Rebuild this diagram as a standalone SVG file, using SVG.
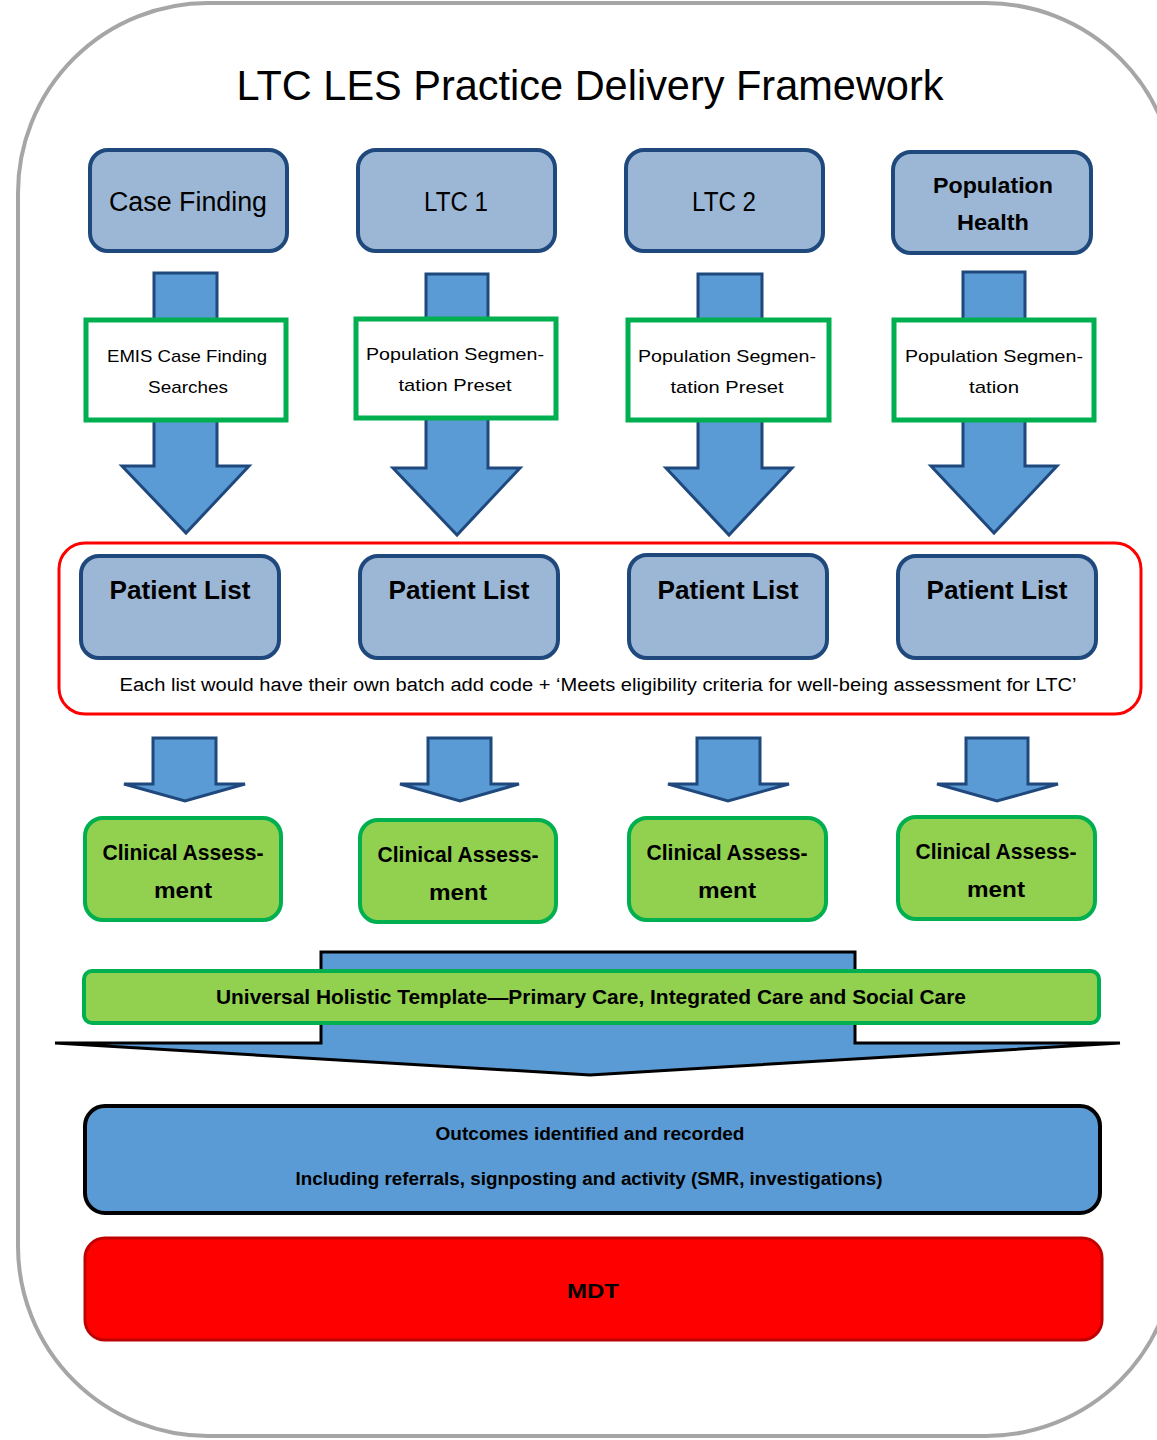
<svg xmlns="http://www.w3.org/2000/svg" width="1157" height="1440" viewBox="0 0 1157 1440">
<style>
.frame{fill:#fff;stroke:#a6a6a6;stroke-width:4}
.top{fill:#9bb7d5;stroke:#1f497d;stroke-width:4}
.arrow{fill:#5b9bd5;stroke:#1f497d;stroke-width:3;stroke-linejoin:miter}
.gbox{fill:#fff;stroke:#00b050;stroke-width:5}
.clin{fill:#92d050;stroke:#00b050;stroke-width:4}
.t{font-family:"Liberation Sans",Arial,sans-serif;fill:#000;text-anchor:middle}
.b{font-weight:bold}
</style>
<rect class="frame" x="18" y="3" width="1158" height="1433" rx="190" ry="190"/>
<text class="t" x="590" y="100" font-size="42" textLength="707" lengthAdjust="spacingAndGlyphs">LTC LES Practice Delivery Framework</text>

<g id="connectors">
<path class="arrow" d="M154,273 H217 V466 H249 L186,533 L122,466 H154 Z"/>
<path class="arrow" d="M426,274 H488 V468 H520 L457,535 L393,468 H426 Z"/>
<path class="arrow" d="M698,274 H762 V468 H792 L729,535 L666,468 H698 Z"/>
<path class="arrow" d="M963,272 H1025 V466 H1057 L994,533 L931,466 H963 Z"/>
<path class="arrow" d="M153,738 H216 V784 H245 L185,801 L124,784 H153 Z"/>
<path class="arrow" d="M428,738 H491 V784 H519 L460,801 L400,784 H428 Z"/>
<path class="arrow" d="M697,738 H760 V784 H789 L728,801 L668,784 H697 Z"/>
<path class="arrow" d="M966,738 H1028 V784 H1058 L997,801 L937,784 H966 Z"/>
<path d="M321,952 H855 V1043 H1120 L590,1075 L55,1043 H321 Z" fill="#5b9bd5" stroke="#000" stroke-width="3"/>
</g>

<g id="n-casefinding"><rect class="top" x="90" y="150" width="197" height="101" rx="18"/><text class="t" x="188" y="211" font-size="27" textLength="158" lengthAdjust="spacingAndGlyphs">Case Finding</text></g>
<g id="n-ltc1"><rect class="top" x="358" y="150" width="197" height="101" rx="18"/><text class="t" x="456" y="211" font-size="27" textLength="64" lengthAdjust="spacingAndGlyphs">LTC 1</text></g>
<g id="n-ltc2"><rect class="top" x="626" y="150" width="197" height="101" rx="18"/><text class="t" x="724" y="211" font-size="27" textLength="64" lengthAdjust="spacingAndGlyphs">LTC 2</text></g>
<g id="n-pophealth"><rect class="top" x="893" y="152" width="198" height="101" rx="18"/><text class="t b" x="993" y="193" font-size="22" textLength="120" lengthAdjust="spacingAndGlyphs">Population</text><text class="t b" x="993" y="230" font-size="22" textLength="72" lengthAdjust="spacingAndGlyphs">Health</text></g>

<g id="n-emis"><rect class="gbox" x="86" y="320" width="200" height="100"/><text class="t" x="187" y="362" font-size="17" textLength="160" lengthAdjust="spacingAndGlyphs">EMIS Case Finding</text><text class="t" x="188" y="393" font-size="17" textLength="80" lengthAdjust="spacingAndGlyphs">Searches</text></g>
<g id="n-seg1"><rect class="gbox" x="356" y="319" width="200" height="99"/><text class="t" x="455" y="360" font-size="17" textLength="178" lengthAdjust="spacingAndGlyphs">Population Segmen-</text><text class="t" x="455" y="391" font-size="17" textLength="113" lengthAdjust="spacingAndGlyphs">tation Preset</text></g>
<g id="n-seg2"><rect class="gbox" x="628" y="320" width="201" height="100"/><text class="t" x="727" y="362" font-size="17" textLength="178" lengthAdjust="spacingAndGlyphs">Population Segmen-</text><text class="t" x="727" y="393" font-size="17" textLength="113" lengthAdjust="spacingAndGlyphs">tation Preset</text></g>
<g id="n-seg3"><rect class="gbox" x="894" y="320" width="200" height="100"/><text class="t" x="994" y="362" font-size="17" textLength="178" lengthAdjust="spacingAndGlyphs">Population Segmen-</text><text class="t" x="994" y="393" font-size="17" textLength="50" lengthAdjust="spacingAndGlyphs">tation</text></g>

<g id="n-patientgroup"><rect x="59" y="543" width="1082" height="171" rx="26" fill="none" stroke="#ff0000" stroke-width="3"/><text class="t" x="598" y="691" font-size="18" textLength="957" lengthAdjust="spacingAndGlyphs">Each list would have their own batch add code + ‘Meets eligibility criteria for well-being assessment for LTC’</text></g>
<g id="n-pl1"><rect class="top" x="81" y="556" width="198" height="102" rx="18"/><text class="t b" x="180" y="599" font-size="26" textLength="141" lengthAdjust="spacingAndGlyphs">Patient List</text></g>
<g id="n-pl2"><rect class="top" x="360" y="556" width="198" height="102" rx="18"/><text class="t b" x="459" y="599" font-size="26" textLength="141" lengthAdjust="spacingAndGlyphs">Patient List</text></g>
<g id="n-pl3"><rect class="top" x="629" y="555" width="198" height="103" rx="18"/><text class="t b" x="728" y="599" font-size="26" textLength="141" lengthAdjust="spacingAndGlyphs">Patient List</text></g>
<g id="n-pl4"><rect class="top" x="898" y="556" width="198" height="102" rx="18"/><text class="t b" x="997" y="599" font-size="26" textLength="141" lengthAdjust="spacingAndGlyphs">Patient List</text></g>

<g id="n-ca1"><rect class="clin" x="85" y="818" width="196" height="102" rx="18"/><text class="t b" x="183" y="860" font-size="22" textLength="161" lengthAdjust="spacingAndGlyphs">Clinical Assess-</text><text class="t b" x="183" y="898" font-size="22" textLength="58" lengthAdjust="spacingAndGlyphs">ment</text></g>
<g id="n-ca2"><rect class="clin" x="360" y="820" width="196" height="102" rx="18"/><text class="t b" x="458" y="862" font-size="22" textLength="161" lengthAdjust="spacingAndGlyphs">Clinical Assess-</text><text class="t b" x="458" y="900" font-size="22" textLength="58" lengthAdjust="spacingAndGlyphs">ment</text></g>
<g id="n-ca3"><rect class="clin" x="629" y="818" width="197" height="102" rx="18"/><text class="t b" x="727" y="860" font-size="22" textLength="161" lengthAdjust="spacingAndGlyphs">Clinical Assess-</text><text class="t b" x="727" y="898" font-size="22" textLength="58" lengthAdjust="spacingAndGlyphs">ment</text></g>
<g id="n-ca4"><rect class="clin" x="898" y="817" width="197" height="102" rx="18"/><text class="t b" x="996" y="859" font-size="22" textLength="161" lengthAdjust="spacingAndGlyphs">Clinical Assess-</text><text class="t b" x="996" y="897" font-size="22" textLength="58" lengthAdjust="spacingAndGlyphs">ment</text></g>

<g id="n-template"><rect class="clin" x="84" y="971" width="1015" height="52" rx="8" stroke-width="3"/><text class="t b" x="591" y="1004" font-size="20" textLength="750" lengthAdjust="spacingAndGlyphs">Universal Holistic Template—Primary Care, Integrated Care and Social Care</text></g>

<g id="n-outcomes"><rect x="85" y="1106" width="1015" height="107" rx="20" fill="#5b9bd5" stroke="#000" stroke-width="4"/><text class="t b" x="590" y="1140" font-size="18" textLength="309" lengthAdjust="spacingAndGlyphs">Outcomes identified and recorded</text><text class="t b" x="589" y="1185" font-size="18" textLength="587" lengthAdjust="spacingAndGlyphs">Including referrals, signposting and activity (SMR, investigations)</text></g>

<g id="n-mdt"><rect x="85" y="1238" width="1017" height="102" rx="20" fill="#ff0000" stroke="#c00000" stroke-width="3"/><text class="t b" x="593" y="1298" font-size="21" textLength="52" lengthAdjust="spacingAndGlyphs">MDT</text></g>
</svg>
